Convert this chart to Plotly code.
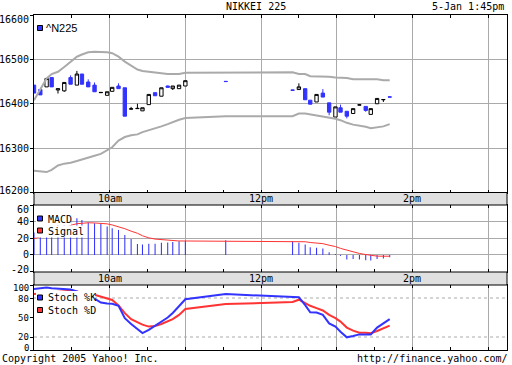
import plotly.graph_objects as go

DATE = "2005-01-05"
TIMES = ["09:00", "09:05", "09:10", "09:14", "09:19", "09:24", "09:29", "09:34", "09:38", "09:43",
         "09:48", "09:53", "09:58", "10:02", "10:07", "10:12", "10:17", "10:22", "10:26", "10:31",
         "10:36", "10:41", "10:46", "10:50", "10:55", "11:00", "11:32",
         "12:25", "12:30", "12:35", "12:39", "12:44", "12:49", "12:54", "12:59", "13:03", "13:08",
         "13:13", "13:18", "13:23", "13:27", "13:32", "13:37", "13:42"]
OPEN = [16442, 16432, 16438, 16459, 16431, 16429, 16459, 16442, 16467, 16449,
        16442, 16425, 16419, 16428, 16440, 16436, 16388, 16389, 16384, 16398,
        16425, 16417, 16440, 16434, 16434, 16440, 16450.5,
        16431, 16432, 16434, 16408, 16404, 16424, 16402, 16370, 16391, 16383,
        16378, 16397, 16394, 16376, 16400, 16409, 16415.5]
HIGH = [16442, 16432, 16457, 16459, 16434, 16448, 16464, 16474, 16467, 16455,
        16448, 16425.5, 16427, 16437, 16446, 16436, 16393, 16400, 16391, 16421,
        16425, 16436, 16441, 16440, 16442, 16452, 16450.5,
        16431, 16446, 16434, 16408, 16421, 16433, 16402, 16393, 16398, 16383,
        16389, 16399, 16394, 16389, 16412, 16409.5, 16415.5]
LOW = [16424, 16420, 16438, 16438, 16423, 16427, 16444, 16442, 16444, 16438,
       16427, 16425, 16419, 16428, 16434, 16372, 16388, 16389, 16384, 16398,
       16418, 16417, 16437, 16431, 16434, 16440, 16450,
       16430.5, 16432, 16409, 16399, 16404, 16415, 16374, 16370, 16381, 16367,
       16378, 16397, 16382, 16376, 16400, 16404, 16415]
CLOSE = [16424, 16420, 16457, 16438, 16434, 16448, 16444, 16467, 16444, 16438,
         16427, 16425.5, 16427, 16437, 16434, 16372, 16388.5, 16389.5, 16391, 16421,
         16418, 16436, 16437, 16440, 16442, 16452, 16450,
         16430.5, 16438, 16409, 16399, 16421, 16415, 16381, 16393, 16381, 16372,
         16389, 16397.5, 16385, 16389, 16412, 16409.5, 16415]
BB_UPPER = [16408, 16431, 16457, 16467, 16472, 16483, 16495, 16506, 16511, 16516,
            16517, 16517, 16516, 16514, 16506, 16495, 16485, 16477, 16474, 16472,
            16470, 16468, 16467, 16467, 16467, 16470, 16471,
            16471, 16467, 16467, 16462, 16462, 16462, 16461, 16459, 16459, 16458,
            16455, 16455, 16455, 16455, 16455, 16453, 16453]
BB_LOWER = [16249, 16248, 16246, 16251, 16261, 16265, 16267, 16271, 16274, 16278,
            16283, 16287, 16295, 16302, 16317, 16325, 16329, 16331, 16336, 16340,
            16344, 16349, 16354, 16359, 16364, 16368, 16372,
            16372, 16378, 16378, 16376, 16375, 16372, 16369, 16366, 16363, 16357,
            16353, 16351, 16348, 16345, 16347, 16349, 16354]
MACD = [27, 29, 31, 34, 37, 40, 43, 44, 42, 39,
        38, 37, 34, 32, 30, 24, 19, 13, 12.5, 13.5,
        13.5, 14.5, 15, 15.5, 16.5, 17, 17.5,
        16.7, 14.7, 12.6, 9.3, 8.5, 7.7, 3.2, 1.2, -1.2, -5.7,
        -4.9, -5.7, -6.5, -6.9, -4.9, -4.5, -2.9]
SIGNAL = [19.6, 21.5, 24, 27, 30, 33, 35.5, 37.5, 38.4, 38.6,
          38.4, 38, 37.3, 36, 34, 31.5, 28.5, 26, 23, 20.5,
          19, 18.2, 17.3, 16.8, 16.7, 16.7, 16.7,
          16.7, 16.0, 15.8, 14.9, 14.2, 13.5, 11.6, 10.0, 7.8, 5.5,
          3.6, 1.7, 0.4, -0.6, -1.5, -1.6, -1.6]
STOCH_K = [94, 95, 96, 95, 94, 94, 93, 90, 86, 82,
           79, 73, 71.5, 71, 68, 49, 40, 32, 26, 31,
           37, 43, 50, 57, 67, 78, 86,
           82, 81, 69, 58, 57.7, 54, 41, 36, 28, 19.5,
           21.5, 24, 24, 24, 34.5, 41, 47.5]
STOCH_D = [86, 87, 88, 89, 90, 91, 91, 90, 88, 86,
           85, 82.5, 79.4, 76.9, 68.5, 56.7, 47.4, 42.2, 39, 36,
           36.9, 40, 43.7, 47.4, 54, 63, 70.7,
           73.8, 77.4, 72.2, 68, 64.5, 60.8, 54, 49, 43.7, 34.5,
           29.8, 26.7, 26.7, 25.7, 29.3, 33.5, 37.5]

PRICE_TICKS = [16200, 16300, 16400, 16500, 16600]
MACD_TICKS = [-20, 0, 20, 40, 60]
STOCH_TICKS = [0, 20, 50, 80, 100]
STOCH_GUIDES = [20, 80]
TIME_TICKS = ["10:00", "12:00", "14:00"]
TIME_LABELS = ["10am", "12pm", "2pm"]

x = [f"{DATE} {t}" for t in TIMES]

BLUE = "#3333ff"
RED = "#ff3333"
GRID = "#aaaaaa"
MONO = "DejaVu Sans Mono"

W, H = 512, 365
ML, MR, MT, MB = 34, 5, 15, 15
PW, PH = W - ML - MR, H - MT - MB


def X(px):
    return (px - ML) / PW


def Y(py):
    return (H - MB - py) / PH


fig = go.Figure()
fig.add_trace(go.Scatter(x=x, y=BB_UPPER, mode="lines", line=dict(color=GRID, width=2),
                         xaxis="x", yaxis="y"))
fig.add_trace(go.Scatter(x=x, y=BB_LOWER, mode="lines", line=dict(color=GRID, width=2),
                         xaxis="x", yaxis="y"))
fig.add_trace(go.Candlestick(x=x, open=OPEN, high=HIGH, low=LOW, close=CLOSE,
                             increasing=dict(line=dict(color="black", width=1), fillcolor="white"),
                             decreasing=dict(line=dict(color=BLUE, width=1), fillcolor=BLUE),
                             whiskerwidth=0, xaxis="x", yaxis="y"))
fig.add_trace(go.Bar(x=x, y=MACD, marker=dict(color=BLUE, line=dict(width=0)), width=50000,
                     xaxis="x2", yaxis="y2"))
fig.add_trace(go.Scatter(x=x, y=SIGNAL, mode="lines", line=dict(color=RED, width=1),
                         xaxis="x2", yaxis="y2"))
fig.add_trace(go.Scatter(x=x, y=STOCH_D, mode="lines", line=dict(color=RED, width=2),
                         xaxis="x3", yaxis="y3"))
fig.add_trace(go.Scatter(x=x, y=STOCH_K, mode="lines", line=dict(color=BLUE, width=2),
                         xaxis="x3", yaxis="y3"))

xcommon = dict(type="date", range=[f"{DATE} 09:00", f"{DATE} 15:15"],
               tick0=f"{DATE} 09:00", dtick=3600000, showgrid=True, gridcolor=GRID, gridwidth=1,
               showticklabels=False, ticks="inside", ticklen=3, tickcolor="black",
               minor=dict(dtick=1800000, ticks="inside", ticklen=3, tickcolor="black", showgrid=False),
               showline=True, linecolor="black", linewidth=1, mirror="ticks",
               rangeslider=dict(visible=False), fixedrange=True)
ycommon = dict(showline=True, linecolor="black", linewidth=1, mirror=True,
               ticks="outside", ticklen=3, tickcolor="black", showticklabels=False,
               gridcolor=GRID, gridwidth=1, zeroline=False, fixedrange=True)

D_MAIN = [Y(192.5), 1.0]
D_MACD = [Y(272), Y(205)]
D_STOCH = [0.0, Y(285)]

fig.update_layout(
    width=W, height=H, margin=dict(l=ML, r=MR, t=MT, b=MB),
    paper_bgcolor="white", plot_bgcolor="white", showlegend=False,
    boxgap=0.05,
    xaxis=dict(xcommon, anchor="y"),
    xaxis2=dict(xcommon, anchor="y2", matches="x"),
    xaxis3=dict(xcommon, anchor="y3", matches="x"),
    yaxis=dict(ycommon, domain=D_MAIN, range=[PRICE_TICKS[0], PRICE_TICKS[-1]],
               tickvals=PRICE_TICKS, showgrid=True),
    yaxis2=dict(ycommon, domain=D_MACD, range=[-20.6, 60], tickvals=MACD_TICKS, showgrid=True),
    yaxis3=dict(ycommon, domain=D_STOCH, range=[0, 100], tickvals=STOCH_TICKS, showgrid=False),
)

shapes = []
# separator bands with time labels
for y0, y1 in [(192.5, 205), (272, 285)]:
    shapes.append(dict(type="rect", xref="paper", yref="paper", x0=0, x1=1, y0=Y(y1), y1=Y(y0),
                       fillcolor="#e0e0e0", line=dict(color="black", width=1), layer="above"))
# dashed stoch guides
for g in STOCH_GUIDES:
    shapes.append(dict(type="line", xref="paper", yref="y3", x0=0, x1=1, y0=g, y1=g,
                       line=dict(color=GRID, width=1, dash="3px,3px"), layer="below"))
# legend backgrounds (white) covering data
for (x0, x1, y0, y1) in [(36, 71, 213.5, 225.5), (36, 83, 225.5, 237.5),
                         (36, 95, 291, 304), (36, 95, 304, 317)]:
    shapes.append(dict(type="rect", xref="paper", yref="paper", x0=X(x0), x1=X(x1),
                       y0=Y(y1), y1=Y(y0), fillcolor="white", line=dict(width=0), layer="above"))
# legend swatches
for (cy, col) in [(28, BLUE), (218.5, BLUE), (230.5, RED), (297.5, BLUE), (310, RED)]:
    shapes.append(dict(type="rect", xref="paper", yref="paper", x0=X(37.5), x1=X(42.5),
                       y0=Y(cy + 2.5), y1=Y(cy - 2.5), fillcolor=col,
                       line=dict(color="black", width=1), layer="above"))

ann = []
font = dict(family=MONO, size=10, color="black")
small = dict(family=MONO, size=9, color="black")
# y tick labels (end labels nudged inside the panel, as in the original)
label_shift = {"y": {0: 2.5, 4: -4}, "y2": {0: 2.5, 4: -4}, "y3": {0: 2.5, 3: -1, 4: -2.5}}
for ticks, yref in [(PRICE_TICKS, "y"), (MACD_TICKS, "y2"), (STOCH_TICKS, "y3")]:
    for i, tv in enumerate(ticks):
        ann.append(dict(x=X(31), xref="paper", y=tv, yref=yref, text=str(tv), showarrow=False,
                        font=small if yref == "y3" else font, xanchor="right", yanchor="middle",
                        yshift=label_shift[yref].get(i, 0)))
for band_y in [198.75, 278.5]:
    for tv, tl in zip(TIME_TICKS, TIME_LABELS):
        ann.append(dict(x=f"{DATE} {tv}", xref="x", y=Y(band_y), yref="paper", text=tl,
                        showarrow=False, font=font, xanchor="center", yanchor="middle"))
for (txt, cy) in [("MACD", 219), ("Signal", 231.5), ("Stoch %K", 297.7), ("Stoch %D", 310.5)]:
    ann.append(dict(x=X(46), xref="paper", y=Y(cy), yref="paper", text=txt, showarrow=False,
                    font=font, xanchor="left", yanchor="middle"))
ann.append(dict(x=X(44), xref="paper", y=Y(28), yref="paper", text="^N225", showarrow=False,
                font=dict(family="Liberation Sans, Arial", size=11, color="black"),
                xanchor="left", yanchor="middle"))
ann.append(dict(x=X(255.5), xref="paper", y=Y(7), yref="paper", text="NIKKEI 225",
                showarrow=False, font=font, xanchor="center", yanchor="middle"))
ann.append(dict(x=X(506), xref="paper", y=Y(7), yref="paper", text="5-Jan 1:45pm",
                showarrow=False, font=font, xanchor="right", yanchor="middle"))
ann.append(dict(x=X(0), xref="paper", y=Y(358.5), yref="paper", text="Copyright 2005 Yahoo! Inc.",
                showarrow=False, font=font, xanchor="left", yanchor="middle"))
ann.append(dict(x=X(510), xref="paper", y=Y(358.5), yref="paper", text="http://finance.yahoo.com/",
                showarrow=False, font=font, xanchor="right", yanchor="middle"))

fig.update_layout(shapes=shapes, annotations=ann)

fig.write_html("out.html", config=dict(displayModeBar=False, staticPlot=True),
               post_script="document.body.style.margin='0';document.body.style.overflow='hidden';")
